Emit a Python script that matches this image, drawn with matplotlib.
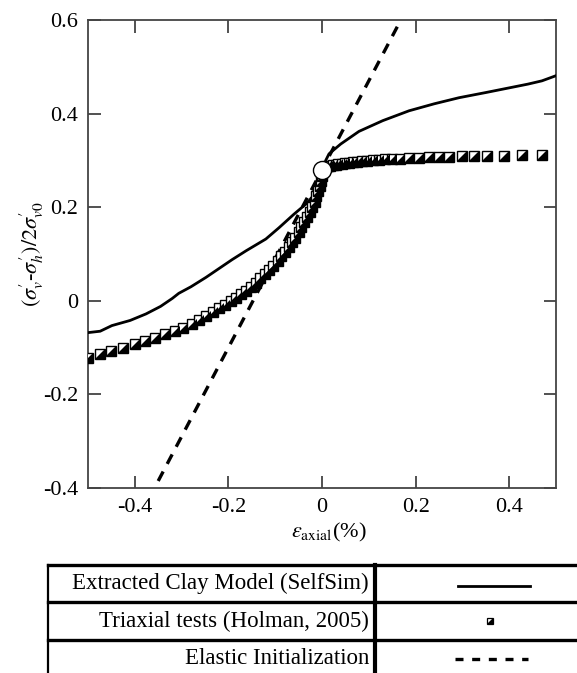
import matplotlib
matplotlib.use("Agg")
import matplotlib.pyplot as plt
from matplotlib.path import Path
from matplotlib.lines import Line2D

plt.rcParams['font.family'] = ['Liberation Serif', 'DejaVu Serif']
plt.rcParams['mathtext.fontset'] = 'stix'

# SelfSim model curve
selfsim_x = [-0.5, -0.474, -0.449, -0.41, -0.376, -0.345, -0.32, -0.306, -0.28, -0.248,
             -0.192, -0.162, -0.12, -0.092, -0.06, -0.034, -0.015, -0.006, 0.0, 0.008,
             0.015, 0.04, 0.079, 0.13, 0.186, 0.24, 0.293, 0.35, 0.40, 0.44, 0.47, 0.5]
selfsim_y = [-0.068, -0.065, -0.053, -0.042, -0.028, -0.012, 0.005, 0.016, 0.03, 0.05,
             0.088, 0.107, 0.132, 0.156, 0.185, 0.207, 0.228, 0.24, 0.27, 0.30,
             0.314, 0.335, 0.362, 0.385, 0.406, 0.421, 0.434, 0.445, 0.455, 0.463, 0.47, 0.481]

# triaxial test points (Holman, 2005)
tri_x = [-0.5, -0.474, -0.45, -0.425, -0.40, -0.378, -0.356, -0.335, -0.315, -0.296,
         -0.278, -0.262, -0.247, -0.233, -0.220, -0.207, -0.195, -0.184, -0.173, -0.162,
         -0.152, -0.142, -0.132, -0.122, -0.113, -0.104, -0.095, -0.087, -0.079, -0.071,
         -0.064, -0.057, -0.050, -0.044, -0.038, -0.032, -0.026, -0.021, -0.016, -0.012,
         -0.008, -0.005, -0.003, -0.001, 0.0,
         0.002, 0.005, 0.009, 0.013, 0.018, 0.023, 0.029, 0.035, 0.042, 0.049,
         0.057, 0.066, 0.075, 0.085, 0.096, 0.108, 0.121, 0.135, 0.150, 0.166,
         0.186, 0.207, 0.228, 0.249, 0.271, 0.299, 0.325, 0.353, 0.389, 0.427, 0.470]
tri_y = [-0.122, -0.114, -0.107, -0.100, -0.093, -0.086, -0.079, -0.072, -0.065, -0.058,
         -0.050, -0.040, -0.032, -0.024, -0.016, -0.008, 0.000, 0.006, 0.014, 0.022,
         0.030, 0.039, 0.048, 0.057, 0.066, 0.075, 0.085, 0.095, 0.105, 0.115,
         0.125, 0.135, 0.146, 0.157, 0.168, 0.179, 0.190, 0.201, 0.212, 0.223,
         0.234, 0.245, 0.256, 0.267, 0.276,
         0.281, 0.284, 0.286, 0.288, 0.289, 0.290, 0.291, 0.292, 0.293, 0.294,
         0.295, 0.296, 0.297, 0.298, 0.299, 0.300, 0.301, 0.302, 0.303, 0.304,
         0.305, 0.306, 0.307, 0.308, 0.308, 0.309, 0.309, 0.310, 0.310, 0.311, 0.311]

# elastic initialization line
elastic_x = [-0.35, 0.17]
elastic_y = [-0.385, 0.603]

# initial state
init_x = [0.0]
init_y = [0.28]

legend_labels = ["Extracted Clay Model (SelfSim)", "Triaxial tests (Holman, 2005)",
                 "Elastic Initialization"]

tri = Path([(-1, -1), (1, -1), (1, 1), (-1, -1)],
           [Path.MOVETO, Path.LINETO, Path.LINETO, Path.CLOSEPOLY])

W, H = 577, 673
fig = plt.figure(figsize=(W / 100, H / 100), dpi=100)
ax = fig.add_axes([88 / W, 1 - 488 / H, 468 / W, 468 / H])

dash_style = dict(color='black', lw=2.4, dashes=(3.2, 2.6))
solid_style = dict(color='black', lw=2.0)
sq_style = dict(ls='none', marker='s', ms=6.8, mfc='white', mec='black', mew=1.0)
tri_style = dict(ls='none', marker=tri, ms=6.8, color='black', mew=0)

ax.plot(elastic_x, elastic_y, **dash_style, zorder=2)
ax.plot(selfsim_x, selfsim_y, **solid_style, zorder=3)
ax.plot(tri_x, tri_y, **sq_style, zorder=4)
ax.plot(tri_x, tri_y, **tri_style, zorder=5)
ax.plot(init_x, init_y, ls='none', marker='o', ms=13, mfc='white', mec='black',
        mew=1.0, zorder=6)

ax.set_xlim(-0.5, 0.5)
ax.set_ylim(-0.4, 0.6)
ax.set_xticks([-0.4, -0.2, 0, 0.2, 0.4])
ax.set_yticks([-0.4, -0.2, 0, 0.2, 0.4, 0.6])
ax.set_xticklabels(["-0.4", "-0.2", "0", "0.2", "0.4"])
ax.set_yticklabels(["-0.4", "-0.2", "0", "0.2", "0.4", "0.6"])
ax.tick_params(direction='in', length=9, width=1.2, colors='#333333',
               labelcolor='black', labelsize=16, top=True, right=True)
ax.tick_params(axis='y', pad=7)
ax.tick_params(axis='x', pad=7)
for s in ax.spines.values():
    s.set_linewidth(1.3)
    s.set_color('#444444')

ax.set_ylabel(r"$(\sigma^{\prime}_{v}$-$\sigma^{\prime}_{h})/2\sigma^{\prime}_{v0}$",
              fontsize=16)
ax.yaxis.set_label_coords(-0.09, 0.5)
ax.set_xlabel(r"$\varepsilon_{\mathrm{axial}}$(%)", fontsize=16)
ax.xaxis.set_label_coords((329 - 88) / 468, -0.07)

# legend table drawn below the plot
lw_out = 2.4
tbl_left, tbl_div, tbl_right = 48, 375, W + 5
rows = [565, 602, 640, 678]


def fx(px):
    return px / W


def fy(py):
    return 1 - py / H


for r in rows:
    fig.add_artist(Line2D([fx(tbl_left), fx(tbl_right)], [fy(r), fy(r)],
                          color='black', lw=lw_out))
fig.add_artist(Line2D([fx(tbl_left), fx(tbl_left)], [fy(rows[0]), fy(rows[-1])],
                      color='black', lw=1.6))
fig.add_artist(Line2D([fx(tbl_div), fx(tbl_div)], [fy(rows[0]), fy(rows[-1])],
                      color='black', lw=3.0))

for i, lab in enumerate(legend_labels):
    yc = (rows[i] + rows[i + 1]) / 2
    fig.text(fx(369), fy(yc), lab, ha='right', va='center', fontsize=16.5)

y1 = (rows[0] + rows[1]) / 2 + 2
fig.add_artist(Line2D([fx(458), fx(530)], [fy(y1), fy(y1)], **solid_style))
y2 = (rows[1] + rows[2]) / 2
fig.add_artist(Line2D([fx(490)], [fy(y2)], ls='none', marker='s', ms=5, mfc='white',
                      mec='black', mew=0.9))
fig.add_artist(Line2D([fx(490)], [fy(y2)], ls='none', marker=tri, ms=5, color='black',
                      mew=0))
y3 = (rows[2] + rows[3]) / 2
fig.add_artist(Line2D([fx(455), fx(528)], [fy(y3), fy(y3)], color='black', lw=2.4,
                      dashes=(2.4, 2.6)))

fig.savefig("out.png", dpi=100)
